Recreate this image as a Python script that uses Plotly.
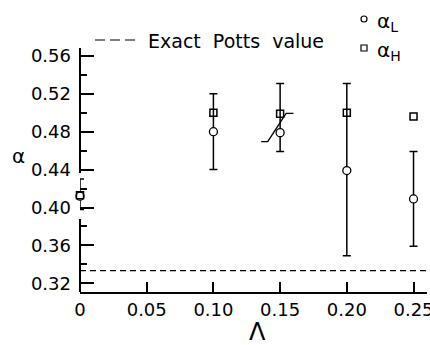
import plotly.graph_objects as go

# ---- data ----
LAMBDA = [0.0, 0.10, 0.15, 0.20, 0.25]
ALPHA_L = [0.412, 0.480, 0.479, 0.439, 0.409]
ALPHA_L_ERR_PLUS = [0.018, 0.040, 0.052, 0.092, 0.050]
ALPHA_L_ERR_MINUS = [0.014, 0.040, 0.020, 0.090, 0.050]
ALPHA_H = [0.413, 0.500, 0.499, 0.500, 0.496]
# slanted error bar drawn at Lambda = 0.15
SLANT_X = [0.1358, 0.1407, 0.1545, 0.1600]
SLANT_Y = [0.4695, 0.4695, 0.4993, 0.4993]
EXACT_POTTS = 1.0 / 3.0
X_TICKS = [0.0, 0.05, 0.10, 0.15, 0.20, 0.25]
X_TICK_LABELS = ["0", "0.05", "0.10", "0.15", "0.20", "0.25"]
Y_TICKS = [0.32, 0.36, 0.40, 0.44, 0.48, 0.52, 0.56]
Y_TICK_LABELS = ["0.32", "0.36", "0.40", "0.44", "0.48", "0.52", "0.56"]
Y_MINOR_TICKS = [0.34, 0.38, 0.42, 0.46, 0.50, 0.54]

W, H = 430, 345
ML, MR, MT, MB = 80, 3, 48, 53
PW, PH = W - ML - MR, H - MT - MB
FONT = "DejaVu Sans"


def px(x):
    return (x - ML) / PW


def py(y):
    return (H - MB - y) / PH


fig = go.Figure()

# slanted error bar
fig.add_trace(go.Scatter(x=SLANT_X, y=SLANT_Y, mode="lines",
                         line=dict(color="black", width=1.4),
                         hoverinfo="skip", showlegend=False))

# alpha_L with error bars
fig.add_trace(go.Scatter(
    x=LAMBDA, y=ALPHA_L, mode="markers",
    marker=dict(symbol="circle", size=8, color="white",
                line=dict(color="black", width=1.3)),
    error_y=dict(type="data", symmetric=False, array=ALPHA_L_ERR_PLUS,
                 arrayminus=ALPHA_L_ERR_MINUS, color="black",
                 thickness=1.5, width=4),
    showlegend=False, cliponaxis=False))

# alpha_H
fig.add_trace(go.Scatter(
    x=LAMBDA, y=ALPHA_H, mode="markers",
    marker=dict(symbol="square-open", size=7, color="black",
                line=dict(color="black", width=1.5)),
    showlegend=False, cliponaxis=False))

shapes = []
# exact Potts value dashed line
shapes.append(dict(type="line", xref="paper", yref="y", x0=0, x1=1,
                   y0=EXACT_POTTS, y1=EXACT_POTTS,
                   line=dict(color="black", width=1.1, dash="6px,4px")))
# broken y axis line
shapes.append(dict(type="line", xref="paper", yref="paper", x0=0, x1=0,
                   y0=0, y1=py(219), line=dict(color="black", width=2)))
shapes.append(dict(type="line", xref="paper", yref="paper", x0=0, x1=0,
                   y0=py(173), y1=1, line=dict(color="black", width=2)))
# legend: dashed sample
shapes.append(dict(type="line", xref="paper", yref="paper",
                   x0=px(95), x1=px(136), y0=py(40), y1=py(40),
                   line=dict(color="black", width=1.2, dash="10px,5px")))
# legend: circle and square samples
shapes.append(dict(type="circle", xref="paper", yref="paper",
                   x0=px(361), x1=px(367), y0=py(16), y1=py(22),
                   line=dict(color="black", width=1.2)))
shapes.append(dict(type="rect", xref="paper", yref="paper",
                   x0=px(361), x1=px(367), y0=py(45), y1=py(51),
                   line=dict(color="black", width=1.2)))

annotations = [
    dict(text="Exact\u00a0\u00a0Potts\u00a0\u00a0value", xref="paper", yref="paper",
         x=px(146), y=py(41), xanchor="left", yanchor="middle", showarrow=False,
         font=dict(family=FONT, size=19, color="black")),
    dict(text="α<sub>L</sub>", xref="paper", yref="paper",
         x=px(375), y=py(22), xanchor="left", yanchor="middle", showarrow=False,
         font=dict(family=FONT, size=20, color="black")),
    dict(text="α<sub>H</sub>", xref="paper", yref="paper",
         x=px(375), y=py(51), xanchor="left", yanchor="middle", showarrow=False,
         font=dict(family=FONT, size=20, color="black")),
    dict(text="α", xref="paper", yref="paper",
         x=px(18), y=py(156), xanchor="center", yanchor="middle", showarrow=False,
         font=dict(family=FONT, size=20, color="black")),
    dict(text="Λ", xref="paper", yref="paper",
         x=px(257), y=py(332), xanchor="center", yanchor="middle", showarrow=False,
         font=dict(family=FONT, size=24, color="black")),
]

fig.update_layout(
    template="none",
    width=W, height=H,
    margin=dict(l=ML, r=MR, t=MT, b=MB, pad=0),
    paper_bgcolor="white", plot_bgcolor="white",
    showlegend=False,
    shapes=shapes, annotations=annotations,
    xaxis=dict(range=[0, 0.2601], tickvals=X_TICKS, ticktext=X_TICK_LABELS,
               ticks="inside", ticklen=10, tickwidth=1.5, tickcolor="black",
               showline=True, linecolor="black", linewidth=2,
               showgrid=False, zeroline=False, automargin=False,
               ticklabeloverflow="allow",
               tickfont=dict(family=FONT, size=18, color="black")),
    yaxis=dict(range=[0.31082, 0.56834], tickvals=Y_TICKS, ticktext=Y_TICK_LABELS,
               ticks="inside", ticklen=14, tickwidth=1.5, tickcolor="black",
               minor=dict(tickvals=Y_MINOR_TICKS,
                          ticks="inside", ticklen=7, tickwidth=1.5,
                          tickcolor="black"),
               showline=False, showgrid=False, zeroline=False, automargin=False,
               ticklabeloverflow="allow", ticklabelstandoff=8,
               tickfont=dict(family=FONT, size=18, color="black")),
)

fig.write_html("out.html")
